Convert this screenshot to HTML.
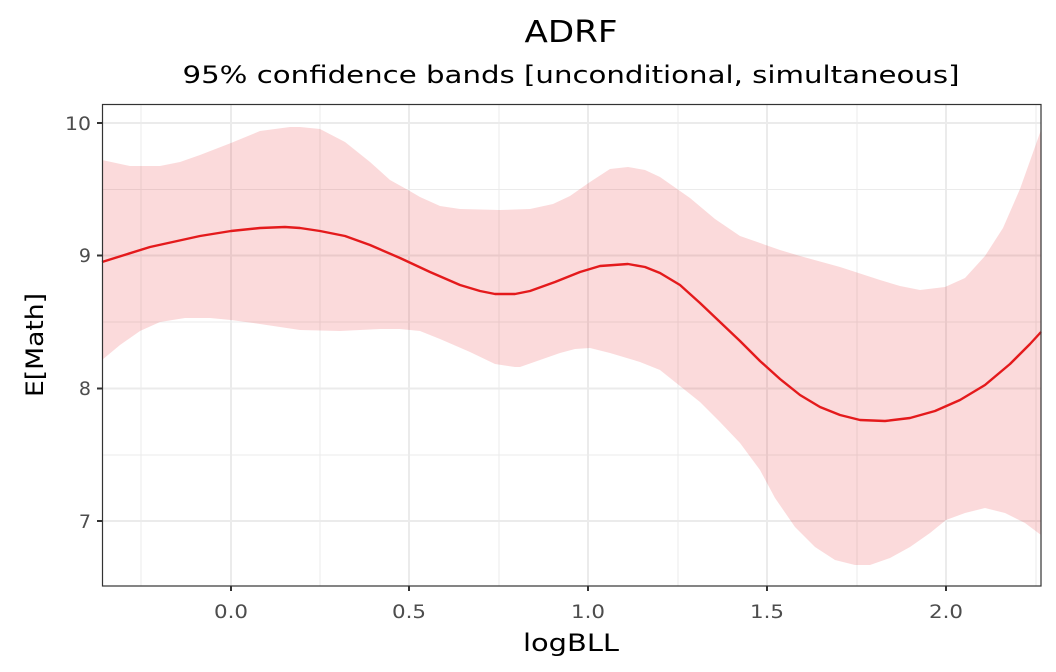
<!DOCTYPE html>
<html><head><meta charset="utf-8"><style>
html,body{margin:0;padding:0;background:#fff;}
svg{display:block;font-family:"DejaVu Sans","Liberation Sans",sans-serif;}
</style></head><body>
<svg width="1056" height="672" viewBox="0 0 1056 672">
<rect width="1056" height="672" fill="#fff"/>
<text x="571" y="42" font-size="30" text-anchor="middle" fill="#000" textLength="93" lengthAdjust="spacingAndGlyphs">ADRF</text>
<text x="571" y="83" font-size="24" text-anchor="middle" fill="#000" textLength="777" lengthAdjust="spacingAndGlyphs">95% confidence bands [unconditional, simultaneous]</text>
<g stroke="#ebebeb" stroke-width="1">
<line x1="102" x2="1041" y1="189.5" y2="189.5"/><line x1="102" x2="1041" y1="322" y2="322"/><line x1="102" x2="1041" y1="455" y2="455"/>
<line x1="141" x2="141" y1="104" y2="586"/><line x1="320" x2="320" y1="104" y2="586"/><line x1="499" x2="499" y1="104" y2="586"/><line x1="678" x2="678" y1="104" y2="586"/><line x1="857" x2="857" y1="104" y2="586"/><line x1="1036" x2="1036" y1="104" y2="586"/>
</g>
<g stroke="#ebebeb" stroke-width="2">
<line x1="102" x2="1041" y1="123" y2="123"/><line x1="102" x2="1041" y1="255.5" y2="255.5"/><line x1="102" x2="1041" y1="388.5" y2="388.5"/><line x1="102" x2="1041" y1="521" y2="521"/>
<line x1="231" x2="231" y1="104" y2="586"/><line x1="409" x2="409" y1="104" y2="586"/><line x1="588" x2="588" y1="104" y2="586"/><line x1="767" x2="767" y1="104" y2="586"/><line x1="946" x2="946" y1="104" y2="586"/>
</g>
<path fill="#e41a1c" fill-opacity="0.16" stroke="none" d="M102,160 L130,166 L160,166 L180,162 L200,155 L231,143 L260,131 L290,127 L300,127 L320,129 L345,142 L370,162 L390,180 L408,190 L420,197 L440,206 L460,209 L500,210 L530,209 L553,204 L570,196 L590,182 L610,169 L628,167 L645,170 L660,177 L690,198 L715,219 L740,236 L780,250 L800,256 L840,267 L880,280 L900,286 L920,290 L945,287 L965,278 L985,256 L1003,228 L1020,189 L1041,130 L1041,535 L1025,523 L1005,513 L985,508 L965,513 L946,520 L930,533 L910,547 L890,558 L870,565 L855,565 L835,560 L815,547 L795,527 L775,498 L760,470 L740,443 L720,422 L700,402 L680,386 L660,370 L640,362 L610,353 L590,348 L575,349 L560,353 L540,360 L520,367 L515,367 L495,364 L470,352 L440,339 L420,331 L400,329 L380,329 L340,331 L300,330 L260,324 L231,320 L210,318 L185,318 L160,322 L140,331 L120,345 L102,360 Z"/>
<polyline fill="none" stroke="#e41a1c" stroke-width="2.4" stroke-linejoin="round" points="102,262 150,247 200,236 231,231 260,228 285,227 300,228 320,231 345,236 370,245 400,258 430,272 460,285 480,291 495,294 515,294 530,291 555,282 580,272 600,266 628,264 645,267 660,273 680,285 700,303 720,322 740,341 760,361 780,379 800,395 820,407 840,415 860,420 885,421 910,418 935,411 960,400 985,385 1010,364 1030,344 1041,332"/>
<rect x="102.5" y="104.5" width="938.5" height="481.5" fill="none" stroke="#333" stroke-width="1.2"/>
<g stroke="#333" stroke-width="2">
<line x1="97" x2="102" y1="123" y2="123"/><line x1="97" x2="102" y1="255.5" y2="255.5"/><line x1="97" x2="102" y1="388.5" y2="388.5"/><line x1="97" x2="102" y1="521" y2="521"/>
<line x1="231" x2="231" y1="586" y2="591"/><line x1="409" x2="409" y1="586" y2="591"/><line x1="588" x2="588" y1="586" y2="591"/><line x1="767" x2="767" y1="586" y2="591"/><line x1="946" x2="946" y1="586" y2="591"/>
</g>
<g font-size="19" fill="#4d4d4d" text-anchor="end">
<text x="91" y="130" textLength="26" lengthAdjust="spacingAndGlyphs">10</text><text x="91" y="262">9</text><text x="91" y="395">8</text><text x="91" y="528">7</text>
</g>
<g font-size="19" fill="#4d4d4d" text-anchor="middle">
<text x="231" y="618" textLength="34" lengthAdjust="spacingAndGlyphs">0.0</text><text x="409" y="618" textLength="34" lengthAdjust="spacingAndGlyphs">0.5</text><text x="588" y="618" textLength="34" lengthAdjust="spacingAndGlyphs">1.0</text><text x="767" y="618" textLength="34" lengthAdjust="spacingAndGlyphs">1.5</text><text x="946" y="618" textLength="34" lengthAdjust="spacingAndGlyphs">2.0</text>
</g>
<text x="571" y="651" font-size="24" text-anchor="middle" fill="#000" textLength="96" lengthAdjust="spacingAndGlyphs">logBLL</text>
<text transform="translate(43,345) rotate(-90)" font-size="24" text-anchor="middle" fill="#000" textLength="104" lengthAdjust="spacingAndGlyphs">E[Math]</text>
</svg>
</body></html>
